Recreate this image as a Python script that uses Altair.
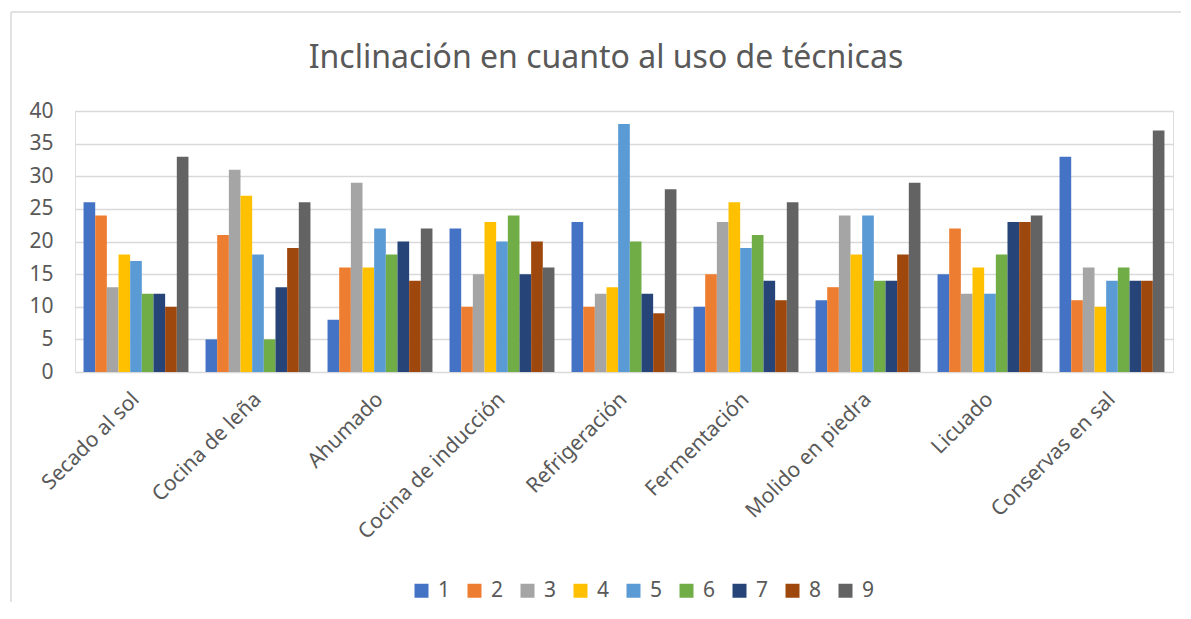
import altair as alt
import pandas as pd

categories = ["Secado al sol", "Cocina de leña", "Ahumado", "Cocina de inducción",
              "Refrigeración", "Fermentación", "Molido en piedra", "Licuado", "Conservas en sal"]
series = ["1", "2", "3", "4", "5", "6", "7", "8", "9"]
values = [
    [26, 24, 13, 18, 17, 12, 12, 10, 33],
    [5, 21, 31, 27, 18, 5, 13, 19, 26],
    [8, 16, 29, 16, 22, 18, 20, 14, 22],
    [22, 10, 15, 23, 20, 24, 15, 20, 16],
    [23, 10, 12, 13, 38, 20, 12, 9, 28],
    [10, 15, 23, 26, 19, 21, 14, 11, 26],
    [11, 13, 24, 18, 24, 14, 14, 18, 29],
    [15, 22, 12, 16, 12, 18, 23, 23, 24],
    [33, 11, 16, 10, 14, 16, 14, 14, 37],
]
colors = ["#4472C4", "#ED7D31", "#A5A5A5", "#FFC000", "#5B9BD5",
          "#70AD47", "#264478", "#9E480E", "#636363"]

rows = []
for ci, cat in enumerate(categories):
    for si, s in enumerate(series):
        rows.append({"Técnica": cat, "Serie": s, "Valor": values[ci][si]})
df = pd.DataFrame(rows)

W, H = 1098, 261
FONT = "Noto Sans"
GRAY = "#595959"

bars = alt.Chart(df).mark_bar().encode(
    x=alt.X("Técnica:N", sort=categories, title=None,
            scale=alt.Scale(paddingInner=0.14, paddingOuter=0.07),
            axis=alt.Axis(labelAngle=-45, labelAlign="right", labelBaseline="middle",
                          labelPadding=24, ticks=False, domain=False, labelLimit=400,
                          labelFontSize=21, labelColor=GRAY, labelFont=FONT)),
    xOffset=alt.XOffset("Serie:N", sort=series, scale=alt.Scale(paddingInner=0, paddingOuter=0)),
    y=alt.Y("Valor:Q", title=None,
            scale=alt.Scale(domain=[0, 40], nice=False),
            axis=alt.Axis(values=[0, 5, 10, 15, 20, 25, 30, 35, 40], ticks=False, domain=False,
                          labelPadding=22, labelFontSize=21, labelColor=GRAY, labelFont=FONT,
                          gridColor="#D9D9D9", gridWidth=1.5)),
    color=alt.Color("Serie:N", sort=series,
                    scale=alt.Scale(domain=series, range=colors),
                    legend=alt.Legend(title=None, orient="none", direction="horizontal",
                                      legendX=336, legendY=469,
                                      symbolType="square", symbolSize=196,
                                      symbolStrokeWidth=0, labelFontSize=21,
                                      labelColor=GRAY, labelFont=FONT,
                                      labelOffset=6, columnPadding=13)),
)

border = alt.Data(values=[{"a": 1}])
left_line = alt.Chart(border).mark_rule(color="#D9D9D9", strokeWidth=1.5).encode(
    x=alt.value(-64), y=alt.value(-99), y2=alt.value(H + 260))
top_line = alt.Chart(border).mark_rule(color="#D9D9D9", strokeWidth=1.5).encode(
    x=alt.value(-64), x2=alt.value(W + 20), y=alt.value(-99))

chart = alt.layer(left_line, top_line, bars).properties(
    width=W, height=H,
    title=alt.TitleParams("Inclinación en cuanto al uso de técnicas", anchor="middle",
                          frame="group", dx=-18, dy=131, fontSize=32, font=FONT, color=GRAY,
                          fontWeight="normal", baseline="alphabetic", offset=42),
    autosize=alt.AutoSizeParams(type="none"),
    padding={"left": 67, "top": 103, "right": 8, "bottom": 230},
).configure_view(stroke=None).configure(background="white")

chart.save("out.html", embed_options={"renderer": "svg", "actions": False})
